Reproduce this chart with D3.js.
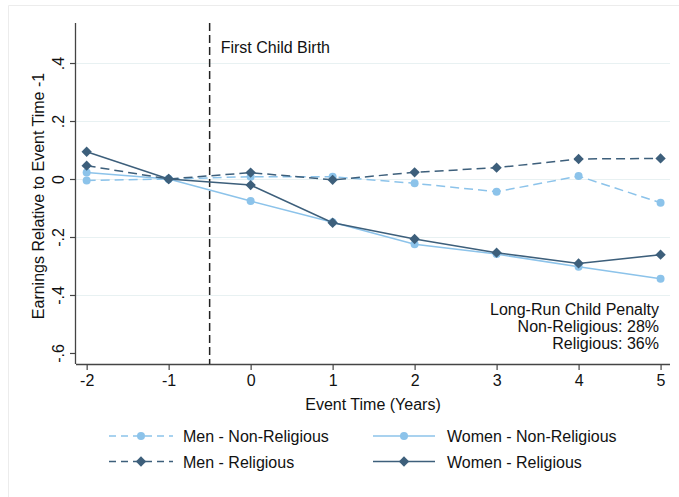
<!DOCTYPE html>
<html>
<head>
<meta charset="utf-8">
<script src="https://cdn.jsdelivr.net/npm/d3@7"></script>
<style>
  html, body { margin: 0; padding: 0; background: #fff; }
  svg { display: block; font-family: "Liberation Sans", Arial, Helvetica, sans-serif; }
</style>
</head>
<body>
<svg id="chart" width="679" height="497"></svg>
<script>
const eventTimes = [-2, -1, 0, 1, 2, 3, 4, 5];
const menNonReligious   = [-0.005, 0, 0.008, 0.008, -0.015, -0.044, 0.010, -0.082];
const menReligious      = [0.046, 0, 0.022, -0.003, 0.023, 0.039, 0.069, 0.071];
const womenNonReligious = [0.022, 0, -0.076, -0.149, -0.225, -0.259, -0.303, -0.344];
const womenReligious    = [0.094, 0, -0.021, -0.151, -0.207, -0.254, -0.291, -0.261];
const xTickValues = [-2, -1, 0, 1, 2, 3, 4, 5];
const yTickValues = [0.4, 0.2, 0, -0.2, -0.4, -0.6];
const yTickLabels = [".4", ".2", "0", "-.2", "-.4", "-.6"];
const gridValues = [0.4, 0.2, 0, -0.2, -0.4];
const birthLine = -0.5;
const penaltyLines = ["Long-Run Child Penalty", "Non-Religious: 28%", "Religious: 36%"];

const LIGHT = "#8cc3ea";
const DARK = "#3d5f7b";

const seriesList = [
  { name: "Men - Non-Religious", values: menNonReligious, color: LIGHT, dash: "9,5", marker: "circle" },
  { name: "Men - Religious", values: menReligious, color: DARK, dash: "9,5", marker: "diamond" },
  { name: "Women - Non-Religious", values: womenNonReligious, color: LIGHT, dash: null, marker: "circle" },
  { name: "Women - Religious", values: womenReligious, color: DARK, dash: null, marker: "diamond" }
];

const svg = d3.select("#chart");

// faint outer frame
svg.append("path").attr("d", "M8.5,497 L8.5,5.5 L679,5.5")
  .attr("fill", "none").attr("stroke", "#ececec").attr("stroke-width", 1);

const x = d3.scaleLinear().domain([-2.13, 5.115]).range([76, 670]);
const y = d3.scaleLinear().domain([-0.638, 0.538]).range([364, 23]);

// gridlines
svg.append("g").selectAll("line").data(gridValues).join("line")
  .attr("x1", 76).attr("x2", 670)
  .attr("y1", d => Math.round(y(d)) + 0.5).attr("y2", d => Math.round(y(d)) + 0.5)
  .attr("stroke", "#e8f1f2").attr("stroke-width", 1.2);

// axes
const xAxis = d3.axisBottom(x).tickValues(xTickValues).tickSize(6).tickPadding(5).tickFormat(d3.format("d"));
const gx = svg.append("g").attr("transform", "translate(0,364)").call(xAxis);
gx.select(".domain").attr("d", "M76,0.5H670").attr("stroke", "#444").attr("stroke-width", 1.3);
gx.selectAll(".tick line").attr("stroke", "#444").attr("stroke-width", 1.2);
gx.selectAll(".tick text").attr("font-size", 16).attr("fill", "#111")
  .attr("font-family", "'Liberation Sans', Arial, sans-serif")
  .text(d => d < 0 ? "-" + Math.abs(d) : String(d));

const yAxis = d3.axisLeft(y).tickValues(yTickValues).tickSize(6).tickFormat((d, i) => yTickLabels[i]);
const gy = svg.append("g").attr("transform", "translate(76,0)").call(yAxis);
gy.select(".domain").attr("d", "M-0.5,23V364").attr("stroke", "#444").attr("stroke-width", 1.3);
gy.selectAll(".tick line").attr("stroke", "#444").attr("stroke-width", 1.2);
gy.selectAll(".tick text")
  .attr("font-size", 16).attr("fill", "#111")
  .attr("font-family", "'Liberation Sans', Arial, sans-serif")
  .attr("x", null).attr("dy", null)
  .attr("text-anchor", "middle")
  .attr("transform", "translate(-12,0) rotate(-90)");

// axis titles
svg.append("text").attr("x", 373).attr("y", 410).attr("text-anchor", "middle")
  .attr("font-size", 16).attr("fill", "#111").text("Event Time (Years)");
svg.append("text").attr("transform", "translate(44,196) rotate(-90)").attr("text-anchor", "middle")
  .attr("font-size", 16).attr("fill", "#111").text("Earnings Relative to Event Time -1");

// vertical birth line
svg.append("line").attr("x1", x(birthLine)).attr("x2", x(birthLine)).attr("y1", 23).attr("y2", 364)
  .attr("stroke", "#222").attr("stroke-width", 1.5).attr("stroke-dasharray", "8,4");
svg.append("text").attr("x", x(birthLine) + 11).attr("y", 52.5).attr("font-size", 16).attr("fill", "#111")
  .text("First Child Birth");

// lines and markers
const line = d3.line().x((d, i) => x(eventTimes[i])).y(d => y(d));
const diamond = d3.symbol().type(d3.symbolDiamond2).size(68);

function drawMarker(g, type, cx, cy, color) {
  if (type === "circle") {
    g.append("circle").attr("cx", cx).attr("cy", cy).attr("r", 4).attr("fill", color);
  } else {
    g.append("path").attr("d", diamond()).attr("transform", `translate(${cx},${cy})`).attr("fill", color);
  }
}

// draw order: light first, then dark
const drawOrder = [seriesList[2], seriesList[0], seriesList[3], seriesList[1]];
drawOrder.forEach(s => {
  const g = svg.append("g");
  g.append("path").datum(s.values).attr("d", line)
    .attr("fill", "none").attr("stroke", s.color).attr("stroke-width", 1.5)
    .attr("stroke-dasharray", s.dash);
  s.values.forEach((v, i) => drawMarker(g, s.marker, x(eventTimes[i]), y(v), s.color));
});

// penalty annotation
const ann = svg.append("text").attr("text-anchor", "end").attr("font-size", 16).attr("fill", "#111");
penaltyLines.forEach((t, i) => {
  ann.append("tspan").attr("x", 659).attr("y", 315 + i * 17).text(t);
});

// legend
const legendPos = [
  { s: seriesList[0], x0: 109, x1: 173, tx: 183, cy: 436 },
  { s: seriesList[1], x0: 109, x1: 173, tx: 183, cy: 461.5 },
  { s: seriesList[2], x0: 373, x1: 435, tx: 447, cy: 436 },
  { s: seriesList[3], x0: 373, x1: 435, tx: 447, cy: 461.5 }
];
legendPos.forEach(p => {
  const g = svg.append("g");
  g.append("line").attr("x1", p.x0).attr("x2", p.x1).attr("y1", p.cy).attr("y2", p.cy)
    .attr("stroke", p.s.color).attr("stroke-width", 1.5).attr("stroke-dasharray", p.s.dash ? "7,5" : null);
  drawMarker(g, p.s.marker, (p.x0 + p.x1) / 2, p.cy, p.s.color);
  g.append("text").attr("x", p.tx).attr("y", p.cy + 6).attr("font-size", 16).attr("fill", "#111").text(p.s.name);
});
</script>
</body>
</html>
